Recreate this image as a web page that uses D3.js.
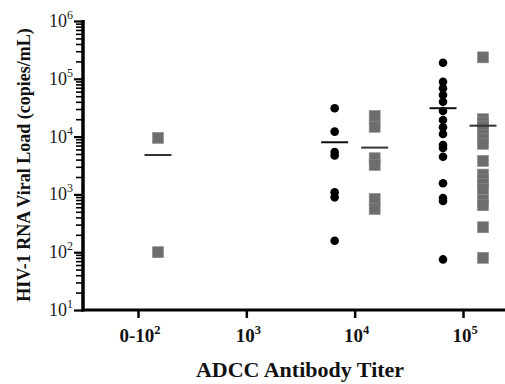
<!DOCTYPE html>
<html>
<head>
<meta charset="utf-8">
<script src="https://cdn.jsdelivr.net/npm/d3@7"></script>
<style>
    body { margin: 0; background: #fff; }
    svg { display: block; }
    text { font-family: "Liberation Serif", "Times New Roman", serif; }
</style>
</head>
<body>
<div id="plot"></div>
<script>
// ADCC titer groups (x) and viral loads (copies/mL)
const categories = ['0-10^2', '10^3', '10^4', '10^5'];
const xTickBase = ['0-10', '10', '10', '10'];
const xTickExp = ['2', '3', '4', '5'];

const circlesByTiter = [
    [],
    [],
    [31000, 12200, 5400, 4700, 1090, 890, 158],
    [190000, 89000, 68500, 52500, 40200, 27700, 19400, 14500, 11100, 7160, 6350, 4490, 1556, 866, 769, 75]
];
const squaresByTiter = [
    [9500, 100],
    [],
    [22700, 14800, 4220, 3230, 832, 559],
    [235000, 20000, 17500, 15000, 12500, 10500, 9000, 7500, 3800, 2200, 1800, 1500, 1250, 800, 650, 270, 80]
];
// group means as drawn (horizontal bars)
const circleMeans = [null, null, 7980, 31000];
const squareMeans = [4800, null, 6450, 15450];

const yTickExp = [1, 2, 3, 4, 5, 6];

const W = 505, H = 384;
const margin = {top: 21, right: 0, bottom: 74, left: 83};

let svg = d3.select('#plot').append('svg')
    .attr('width', W)
    .attr('height', H);

let x = d3.scalePoint()
    .domain(categories)
    .range([margin.left + 55, W - 42]);
let y = d3.scaleLog()
    .domain([10, 1e6])
    .range([H - margin.bottom, margin.top]);

const offset = 20;   // circles left of the tick, squares right
const sq = 11;
const meanW = 27;

// y axis: minor + major ticks
let allTicks = y.ticks();
let isMajor = (v) => Math.abs(Math.log10(v) - Math.round(Math.log10(v))) < 1e-9;

svg.append('g')
    .attr('transform', 'translate(' + margin.left + ',0)')
    .call(d3.axisLeft(y).tickValues(allTicks.filter(v => !isMajor(v))).tickSize(7).tickFormat(''))
    .call(g => g.select('.domain').remove())
    .selectAll('line').attr('stroke', '#000').attr('stroke-width', 1.6);

let yMajor = svg.append('g')
    .attr('transform', 'translate(' + margin.left + ',0)')
    .call(d3.axisLeft(y).tickValues(yTickExp.map(e => Math.pow(10, e))).tickSize(9).tickFormat(''))
    .call(g => g.select('.domain').remove());
yMajor.selectAll('line').attr('stroke', '#000').attr('stroke-width', 2.2);

let yLab = svg.append('g').selectAll('text')
    .data(yTickExp)
    .enter().append('text')
    .attr('x', margin.left - 10)
    .attr('y', d => y(Math.pow(10, d)) + 6)
    .attr('text-anchor', 'end')
    .attr('font-size', 18)
    .attr('fill', '#222');
yLab.append('tspan').text('10');
yLab.append('tspan').attr('dy', -8).attr('font-size', 12).text(d => d);

// axis lines
svg.append('line')
    .attr('x1', margin.left).attr('x2', margin.left)
    .attr('y1', y(1e6) - 1).attr('y2', y(10) + 1.5)
    .attr('stroke', '#000').attr('stroke-width', 3.5);
svg.append('line')
    .attr('x1', margin.left - 1.5).attr('x2', W)
    .attr('y1', y(10)).attr('y2', y(10))
    .attr('stroke', '#000').attr('stroke-width', 3);

// x axis ticks
svg.append('g')
    .attr('transform', 'translate(0,' + y(10) + ')')
    .call(d3.axisBottom(x).tickSize(8).tickFormat(''))
    .call(g => g.select('.domain').remove())
    .selectAll('line').attr('stroke', '#000').attr('stroke-width', 2.5);

let xLab = svg.append('g').selectAll('text')
    .data(categories)
    .enter().append('text')
    .attr('x', d => x(d) + 2)
    .attr('y', 342)
    .attr('text-anchor', 'middle')
    .attr('font-size', 19)
    .attr('font-weight', 'bold')
    .attr('fill', '#111');
xLab.append('tspan').text((d, i) => xTickBase[i]);
xLab.append('tspan').attr('dy', -8).attr('font-size', 12.5).text((d, i) => xTickExp[i]);

// axis titles
svg.append('text')
    .attr('x', 300)
    .attr('y', 377)
    .attr('text-anchor', 'middle')
    .attr('font-size', 22)
    .attr('font-weight', 'bold')
    .attr('fill', '#111')
    .text('ADCC Antibody Titer');

svg.append('text')
    .attr('transform', 'translate(30,' + 165 + ') rotate(-90)')
    .attr('text-anchor', 'middle')
    .attr('font-size', 18)
    .attr('font-weight', 'bold')
    .attr('fill', '#111')
    .text('HIV-1 RNA Viral Load (copies/mL)');

// points
categories.forEach((c, i) => {
    svg.append('g').selectAll('circle')
        .data(circlesByTiter[i])
        .enter().append('circle')
        .attr('cx', x(c) - offset)
        .attr('cy', d => y(d))
        .attr('r', 4.3)
        .attr('fill', '#000');

    svg.append('g').selectAll('rect')
        .data(squaresByTiter[i])
        .enter().append('rect')
        .attr('x', x(c) + offset - sq / 2)
        .attr('y', d => y(d) - sq / 2)
        .attr('width', sq)
        .attr('height', sq)
        .attr('fill', '#6d6d6d')
        .attr('stroke', '#8a8a8a')
        .attr('stroke-width', 0.6);
});

// mean bars
categories.forEach((c, i) => {
    if (circleMeans[i] != null) {
        svg.append('line')
            .attr('x1', x(c) - offset - meanW / 2).attr('x2', x(c) - offset + meanW / 2)
            .attr('y1', y(circleMeans[i])).attr('y2', y(circleMeans[i]))
            .attr('stroke', '#111').attr('stroke-width', 2);
    }
    if (squareMeans[i] != null) {
        svg.append('line')
            .attr('x1', x(c) + offset - meanW / 2).attr('x2', x(c) + offset + meanW / 2)
            .attr('y1', y(squareMeans[i])).attr('y2', y(squareMeans[i]))
            .attr('stroke', '#333').attr('stroke-width', 2);
    }
});
</script>
</body>
</html>
